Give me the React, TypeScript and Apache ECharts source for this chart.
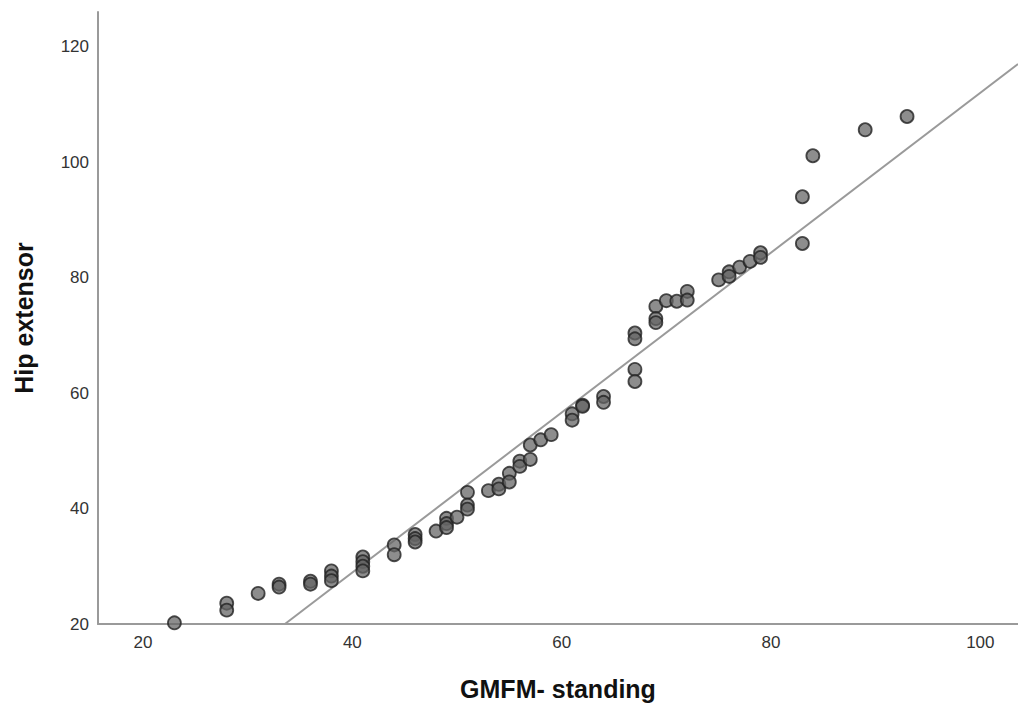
import React, { useEffect, useRef } from "react";
import * as echarts from "echarts";

const gmfmStanding: number[] = [
  23, 28, 28, 31, 33, 33, 36, 36, 38, 38, 38, 41, 41, 41, 41, 44, 44,
  46, 46, 46, 48, 49, 49, 49, 50, 51, 51, 51, 53, 54, 54, 55, 55, 56, 56,
  57, 57, 58, 59, 61, 61, 62, 62, 64, 64, 67, 67, 67, 67, 69, 69, 69,
  70, 71, 72, 72, 75, 76, 76, 77, 78, 79, 79, 83, 83, 84, 89, 93,
];
const hipExtensor: number[] = [
  20.2, 23.6, 22.4, 25.3, 26.9, 26.4, 27.4, 26.9, 29.2, 28.3, 27.5, 31.6, 30.8, 30.0, 29.2, 33.7, 32.0,
  35.5, 34.8, 34.2, 36.1, 38.3, 37.4, 36.7, 38.5, 42.8, 40.6, 39.9, 43.1, 44.2, 43.4, 46.1, 44.6, 48.2, 47.3,
  51.0, 48.5, 51.9, 52.8, 56.4, 55.3, 57.9, 57.7, 59.4, 58.4, 70.4, 69.4, 64.1, 62.0, 75.0, 72.9, 72.2,
  76.0, 75.9, 77.6, 76.1, 79.6, 81.0, 80.2, 81.8, 82.8, 84.3, 83.5, 94.0, 85.9, 101.1, 105.6, 107.9,
];

const xTicks: number[] = [20, 40, 60, 80, 100];
const yTicks: number[] = [20, 40, 60, 80, 100, 120];

const fitSlope = 1.385;
const fitIntercept = -26.48;

const X_MIN = 15.7;
const X_MAX = 103.6;
const Y_MIN = 20;
const Y_MAX = 126;

export default function App() {
  const ref = useRef<HTMLDivElement>(null);

  useEffect(() => {
    if (!ref.current) return;
    const chart = echarts.init(ref.current, null, { renderer: "svg" });
    const points = gmfmStanding.map((x, i) => [x, hipExtensor[i]]);
    const xStart = (Y_MIN - fitIntercept) / fitSlope;
    const fitLine = [
      [xStart, Y_MIN],
      [X_MAX, fitIntercept + fitSlope * X_MAX],
    ];
    const font = "Liberation Sans, Arial, sans-serif";
    chart.setOption({
      animation: false,
      backgroundColor: "#ffffff",
      grid: { left: 98, right: 0, top: 12, bottom: 77, containLabel: false },
      xAxis: {
        type: "value",
        min: X_MIN,
        max: X_MAX,
        name: "GMFM- standing",
        nameLocation: "middle",
        nameGap: 52,
        nameTextStyle: { fontFamily: font, fontSize: 25, fontWeight: "bold", color: "#111" },
        axisLine: { show: true, lineStyle: { color: "#9a9a9a", width: 2 } },
        axisTick: { show: false },
        splitLine: { show: false },
        axisLabel: {
          customValues: xTicks,
          fontFamily: font,
          fontSize: 17,
          color: "#333",
          margin: 10,
        },
      },
      yAxis: {
        type: "value",
        min: Y_MIN,
        max: Y_MAX,
        name: "Hip extensor",
        nameLocation: "middle",
        nameGap: 62,
        nameTextStyle: { fontFamily: font, fontSize: 25, fontWeight: "bold", color: "#111" },
        axisLine: { show: true, lineStyle: { color: "#9a9a9a", width: 2 } },
        axisTick: { show: false },
        splitLine: { show: false },
        axisLabel: {
          customValues: yTicks,
          fontFamily: font,
          fontSize: 17,
          color: "#333",
          margin: 9,
        },
      },
      series: [
        {
          type: "line",
          data: fitLine,
          symbol: "none",
          clip: true,
          lineStyle: { color: "#9a9a9a", width: 2 },
          z: 1,
        },
        {
          type: "scatter",
          data: points,
          symbol: "circle",
          symbolSize: 13,
          clip: false,
          itemStyle: { color: "rgba(100,100,100,0.92)", borderColor: "#222", borderWidth: 1.8 },
          z: 2,
        },
      ],
    });
    return () => chart.dispose();
  }, []);

  return (
    <div
      ref={ref}
      style={{ position: "absolute", left: 0, top: 0, width: 1018, height: 706, background: "#fff" }}
    />
  );
}
